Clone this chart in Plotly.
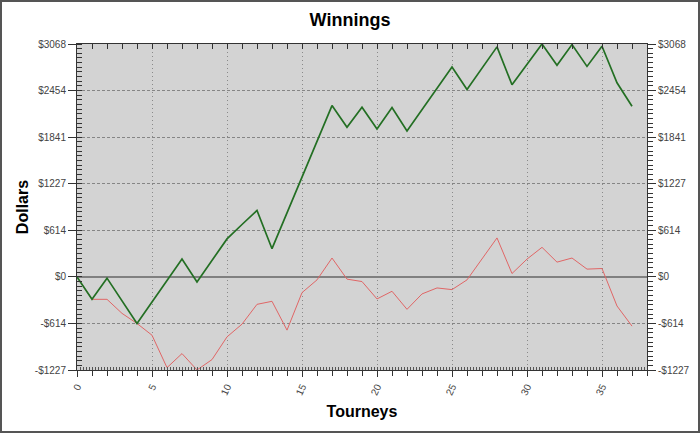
import plotly.graph_objects as go

# cumulative winnings per tourney
tourneys = list(range(38))
winnings = [0, -296, -17, -315, -614, -331, -48, 235, -66, 217,
            500, 690, 875, 371, 843, 1314, 1786, 2257, 1970, 2235,
            1948, 2230, 1921, 2202, 2484, 2765, 2469, 2750, 3030, 2531,
            2800, 3068, 2787, 3060, 2773, 3038, 2557, 2248]
# second (red) series
red_line = [0, -296, -296, -481, -614, -769, -1196, -1011, -1227, -1090,
            -791, -623, -362, -322, -702, -208, -40, 248, -30, -62,
            -291, -190, -428, -225, -146, -168, -40, 236, 513, 44,
            234, 389, 194, 248, 102, 110, -384, -649]

step = 613.6
y_ticks = [k * step for k in range(-2, 6)]
y_labels = ['-$1227', '-$614', '$0', '$614', '$1227', '$1841', '$2454', '$3068']

FONT = 'Liberation Sans, Arial, sans-serif'
tick_font = dict(family=FONT, size=10, color='#444444')
AX = '#333333'

fig = go.Figure()
fig.add_trace(go.Scatter(x=tourneys, y=red_line, mode='lines',
                         line=dict(color='#e06666', width=1), showlegend=False))
fig.add_trace(go.Scatter(x=tourneys, y=winnings, mode='lines',
                         line=dict(color='#236f23', width=1.7), showlegend=False))
# dummy traces so the extra axes (right, top, bottom fine ticks) are drawn
for ax in [dict(yaxis='y2'), dict(xaxis='x2'), dict(xaxis='x3')]:
    fig.add_trace(go.Scatter(x=[0], y=[0], mode='lines', line=dict(width=0),
                             hoverinfo='skip', showlegend=False, **ax))

fig.update_layout(
    width=700, height=433,
    paper_bgcolor='white',
    plot_bgcolor='#d3d3d3',
    margin=dict(l=77, r=53, t=44, b=63, autoexpand=False),
    title=dict(text='<b>Winnings</b>', x=0.5, xanchor='center', y=1 - 20 / 433,
               yanchor='middle', font=dict(family=FONT, size=18, color='black')),
    xaxis=dict(
        range=[0, 38], dtick=5, tick0=0, automargin=False,
        showgrid=True, gridcolor='#8a8a8a', griddash='1px,3px', gridwidth=1,
        zeroline=False,
        showline=True, linecolor=AX, linewidth=1,
        ticks='outside', ticklen=6, tickcolor=AX, tickangle=-65,
        tickfont=tick_font,
        minor=dict(dtick=1, ticks='outside', ticklen=5, tickcolor=AX, showgrid=False),
        title=dict(text='<b>Tourneys</b>', font=dict(family=FONT, size=16, color='black'),
                   standoff=9),
    ),
    xaxis2=dict(
        range=[0, 38], overlaying='x', side='top', matches='x', automargin=False,
        dtick=1, ticks='inside', ticklen=5, tickcolor=AX,
        showticklabels=False, showgrid=False, zeroline=False,
        showline=True, linecolor=AX, linewidth=1,
    ),
    xaxis3=dict(
        range=[0, 38], overlaying='x', side='bottom', matches='x', automargin=False,
        dtick=0.2, ticks='inside', ticklen=3, tickcolor='#555555',
        showticklabels=False, showgrid=False, zeroline=False, showline=False,
    ),
    yaxis=dict(
        range=[-2 * step, 5 * step], automargin=False,
        tickvals=y_ticks, ticktext=y_labels,
        showgrid=True, gridcolor='#858585', griddash='3px,2px', gridwidth=1,
        zeroline=True, zerolinecolor='#808080', zerolinewidth=2,
        showline=True, linecolor=AX, linewidth=1,
        ticks='outside', ticklen=8, tickcolor=AX,
        tickfont=tick_font,
        minor=dict(dtick=step / 10, tick0=0, ticks='inside', ticklen=5,
                   tickcolor=AX, showgrid=False),
        title=dict(text='<b>Dollars</b>', font=dict(family=FONT, size=16, color='black'),
                   standoff=2),
    ),
    yaxis2=dict(
        range=[-2 * step, 5 * step], overlaying='y', side='right', automargin=False,
        tickvals=y_ticks, ticktext=y_labels,
        showgrid=False, zeroline=False,
        showline=True, linecolor=AX, linewidth=1,
        ticks='outside', ticklen=8, tickcolor=AX,
        tickfont=tick_font,
        minor=dict(dtick=step / 10, tick0=0, ticks='outside', ticklen=5,
                   tickcolor=AX, showgrid=False),
    ),
    shapes=[dict(type='rect', xref='paper', yref='paper',
                 x0=(1 - 77) / 570, x1=(699 - 77) / 570,
                 y0=(370 - 432) / 326, y1=(370 - 1) / 326,
                 line=dict(color='#555555', width=2), layer='above')],
)

# drop the browser's default page margin so the figure sits at the corner
fig.write_html("out.html", config={'displayModeBar': False},
               post_script="document.body.style.margin='0';")
